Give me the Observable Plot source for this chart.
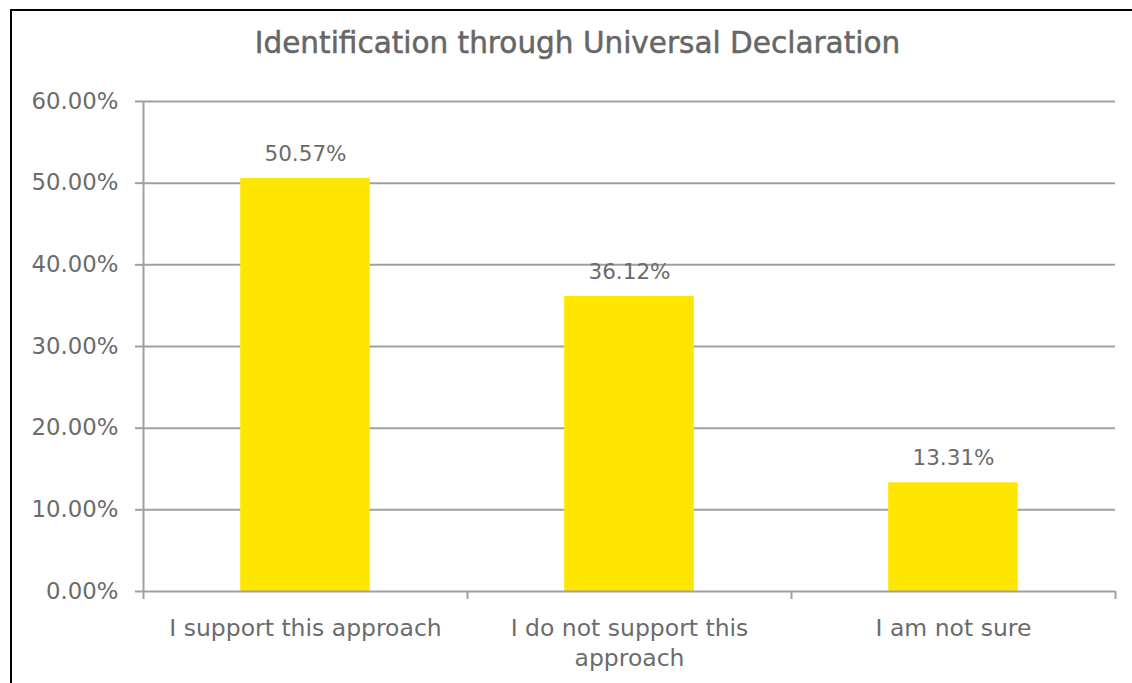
<!DOCTYPE html>
<html>
<head>
<meta charset="utf-8">
<script src="https://cdn.jsdelivr.net/npm/d3@7"></script>
<script src="https://cdn.jsdelivr.net/npm/@observablehq/plot@0.6"></script>
<style>
  body { margin: 0; background: #fff; }
  #wrap { position: relative; width: 1132px; height: 683px; overflow: hidden; background: #fff; }
  #frame { position: absolute; left: 10px; top: 9px; width: 1200px; height: 800px; border: 2px solid #000; box-sizing: border-box; pointer-events: none; }
  #title { position: absolute; left: 0; top: 24px; width: 1155px; text-align: center; font-family: "DejaVu Sans", sans-serif; font-size: 29.5px; font-weight: normal; -webkit-text-stroke: 0.5px #666666; color: #666666; line-height: 38px; }
  #chart { position: absolute; left: 0; top: 0; }
</style>
</head>
<body>
<div id="wrap">
  <div id="chart"></div>
  <div id="title">Identification through Universal Declaration</div>
  <div id="frame"></div>
</div>
<script>
const categories = ["I support this approach", "I do not support this approach", "I am not sure"];
const tickLabels = ["I support this approach", "I do not support this\napproach", "I am not sure"];
const values = [0.5057, 0.3612, 0.1331];
const valueLabels = ["50.57%", "36.12%", "13.31%"];
const yTicks = [0, 0.1, 0.2, 0.3, 0.4, 0.5, 0.6];

const data = categories.map((c, i) => ({
  category: c, index: i, value: values[i], label: valueLabels[i], tick: tickLabels[i]
}));

const gridColor = "#a0a0a0";
const textColor = "#6b6b6b";
const font = "DejaVu Sans, sans-serif";

const chart = Plot.plot({
  width: 1132,
  height: 683,
  marginLeft: 143,
  marginRight: 17,
  marginTop: 101,
  marginBottom: 92,
  style: { fontFamily: font, background: "transparent", overflow: "visible" },
  x: { type: "linear", domain: [0, categories.length], axis: null, label: null },
  y: { domain: [0, 0.6], axis: null, label: null },
  marks: [
    Plot.ruleY(yTicks.slice(1), { stroke: gridColor, strokeWidth: 2 }),
    Plot.rectY(data, { x1: d => d.index + 0.3, x2: d => d.index + 0.7, y: "value", fill: "#FFE600" }),
    Plot.ruleY([0], { stroke: gridColor, strokeWidth: 2 }),
    Plot.ruleX([0], { stroke: gridColor, strokeWidth: 2 }),
    Plot.axisY({ ticks: yTicks, tickSize: 8, tickFormat: () => "", label: null, stroke: gridColor, strokeWidth: 2, strokeOpacity: 1 }),
    Plot.axisY({ ticks: yTicks, tickSize: 0, tickPadding: 25, tickFormat: d3.format(".2%"), label: null, fill: textColor, fontSize: 22.8 }),
    Plot.axisX({ ticks: d3.range(categories.length + 1), tickSize: 8, tickFormat: () => "", label: null, stroke: gridColor, strokeWidth: 2, strokeOpacity: 1 }),
    Plot.text(data, { x: d => d.index + 0.5, y: 0, text: "tick", lineAnchor: "top", dy: 23, fontSize: 23.5, lineHeight: 1.28, fill: textColor }),
    Plot.text(data, { x: d => d.index + 0.5, y: "value", text: "label", lineAnchor: "bottom", dy: -18, fontSize: 21.5, fill: textColor })
  ]
});
document.getElementById("chart").appendChild(chart);
</script>
</body>
</html>
